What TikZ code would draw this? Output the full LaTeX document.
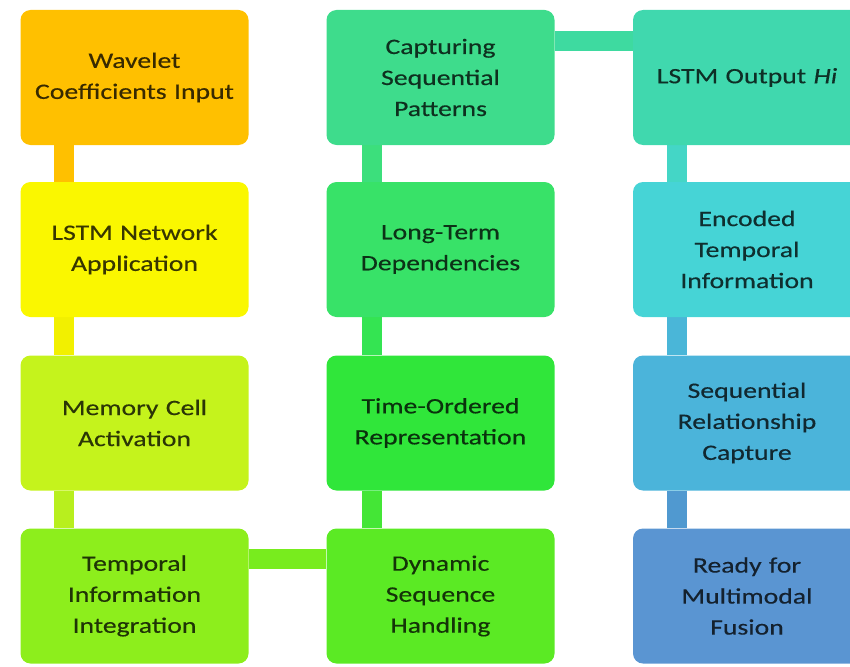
\documentclass[tikz,border=0pt]{standalone}
\usepackage{fontspec}
\setmainfont{Carlito}[FakeStretch=1.26, FakeBold=0.35]
\usetikzlibrary{backgrounds}

% box fills
\definecolor{cWave}{HTML}{FFC000}
\definecolor{cLstm}{HTML}{FAF700}
\definecolor{cMem}{HTML}{C5F31C}
\definecolor{cTemp}{HTML}{8DEE1C}
\definecolor{cDyn}{HTML}{5BEA24}
\definecolor{cTime}{HTML}{30E63A}
\definecolor{cLong}{HTML}{38E268}
\definecolor{cCapt}{HTML}{3EDC8C}
\definecolor{cOut}{HTML}{40D8AE}
\definecolor{cEnc}{HTML}{46D4D6}
\definecolor{cSeq}{HTML}{4BB4DA}
\definecolor{cReady}{HTML}{5A95D2}
% connector fills
\definecolor{kA}{HTML}{FFC000}
\definecolor{kB}{HTML}{F2F000}
\definecolor{kC}{HTML}{B8EF1E}
\definecolor{kD}{HTML}{78EC1E}
\definecolor{kE}{HTML}{44E636}
\definecolor{kF}{HTML}{34E452}
\definecolor{kG}{HTML}{3CDF7C}
\definecolor{kH}{HTML}{3EDAA0}
\definecolor{kI}{HTML}{44D6C6}
\definecolor{kJ}{HTML}{4AB6D8}
\definecolor{kK}{HTML}{5099D0}

\tikzset{
  stage/.style={rectangle, rounded corners=10pt, fill=#1, draw=none,
    minimum width=228pt, minimum height=135pt, inner sep=0pt,
    text width=220pt, align=center, text=#1!22!black,
    font=\fontsize{22}{31}\selectfont},
  bar/.style={line width=20pt, draw=#1},
}

\begin{document}
\begin{tikzpicture}[x=1pt, y=-1pt]
\useasboundingbox (0,0) rectangle (850,666);

% column 1
\node[stage=cWave]  (wave)  at (134.5, 77.5) {Wavelet\\Coefficients Input};
\node[stage=cLstm]  (lstm)  at (134.5,249.5) {LSTM Network\\Application};
\node[stage=cMem]   (mem)   at (134.5,423)   {Memory Cell\\Activation};
\node[stage=cTemp]  (temp)  at (134.5,596)   {Temporal\\Information\\Integration};
% column 2
\node[stage=cDyn]   (dyn)   at (440.5,596)   {Dynamic\\Sequence\\Handling};
\node[stage=cTime]  (time)  at (440.5,423)   {Time-Ordered\\Representation};
\node[stage=cLong]  (long)  at (440.5,249.5) {Long-Term\\Dependencies};
\node[stage=cCapt]  (capt)  at (440.5, 77.5) {Capturing\\Sequential\\Patterns};
% column 3
\node[stage=cOut]   (out)   at (747, 77.5)   {LSTM Output \textit{Hi}};
\node[stage=cEnc]   (enc)   at (747,249.5)   {Encoded\\Temporal\\Information};
\node[stage=cSeq]   (seq)   at (747,423)     {Sequential\\Relationship\\Capture};
\node[stage=cReady] (ready) at (747,596)     {Ready for\\Multimodal\\Fusion};

% connecting bars
\begin{scope}[on background layer]
\draw[bar=kA] ([xshift=43.5pt]wave.south west) -- ([xshift=43.5pt]lstm.north west);
\draw[bar=kB] ([xshift=43.5pt]lstm.south west) -- ([xshift=43.5pt]mem.north west);
\draw[bar=kC] ([xshift=43.5pt]mem.south west)  -- ([xshift=43.5pt]temp.north west);
\draw[bar=kD] ([yshift=-31pt]temp.north east)  -- ([yshift=-31pt]dyn.north west);
\draw[bar=kE] ([xshift=46pt]dyn.north west)    -- ([xshift=46pt]time.south west);
\draw[bar=kF] ([xshift=46pt]time.north west)   -- ([xshift=46pt]long.south west);
\draw[bar=kG] ([xshift=46pt]long.north west)   -- ([xshift=46pt]capt.south west);
\draw[bar=kH] ([yshift=-31pt]capt.north east)  -- ([yshift=-31pt]out.north west);
\draw[bar=kI] ([xshift=44.5pt]out.south west)  -- ([xshift=44.5pt]enc.north west);
\draw[bar=kJ] ([xshift=44.5pt]enc.south west)  -- ([xshift=44.5pt]seq.north west);
\draw[bar=kK] ([xshift=44.5pt]seq.south west)  -- ([xshift=44.5pt]ready.north west);
\end{scope}
\end{tikzpicture}
\end{document}
